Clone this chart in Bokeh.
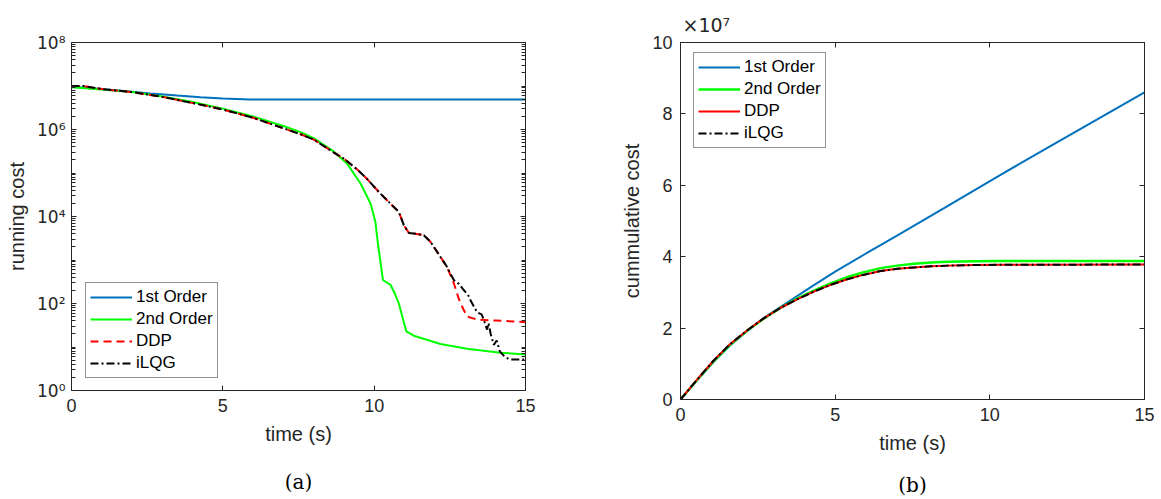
from bokeh.plotting import figure
from bokeh.models import (Range1d, FixedTicker, LogAxis, LinearAxis, Title,
                          CustomJSTickFormatter)
from bokeh.layouts import row
from bokeh.embed import file_html
from bokeh.resources import INLINE

# ---------------- data: (a) running cost (log10 of value) ----------------
t_first = [0, 1.0, 2.0, 2.6, 3.5, 4.26, 5.0, 5.9, 7.0, 15.0]
run_first_log = [6.98, 6.93, 6.87, 6.83, 6.78, 6.74, 6.71, 6.69, 6.69, 6.69]

t_second = [0, 1.0, 2.0, 3.0, 4.0, 5.0, 6.0, 7.0, 7.57, 8.0, 8.67, 9.1, 9.55, 9.88,
            10.04, 10.12, 10.2, 10.29, 10.54, 10.7, 10.81, 11.06, 11.31, 12.19,
            13.07, 14.17, 15.0]
run_second_log = [6.97, 6.92, 6.86, 6.76, 6.63, 6.48, 6.30, 6.08, 5.94, 5.80, 5.49,
                  5.22, 4.76, 4.30, 3.88, 3.40, 3.00, 2.54, 2.43, 2.20, 2.01, 1.36,
                  1.26, 1.07, 0.96, 0.87, 0.83]

t_ddp = [0, 0.4, 1.0, 2.0, 3.0, 4.0, 5.0, 6.0, 7.0, 7.57, 8.0, 8.67, 9.0, 9.44, 9.77,
         10.2, 10.65, 10.81, 10.9, 10.98, 11.15, 11.4, 11.64, 11.86, 12.19, 12.4,
         12.63, 12.8, 12.96, 13.07, 13.4, 14.0, 15.0]
run_ddp_log = [7.00, 7.00, 6.93, 6.86, 6.75, 6.61, 6.46, 6.27, 6.03, 5.89, 5.77, 5.47,
               5.33, 5.08, 4.86, 4.53, 4.22, 4.11, 3.95, 3.80, 3.62, 3.60, 3.57, 3.42,
               3.07, 2.85, 2.47, 2.10, 1.85, 1.70, 1.63, 1.61, 1.57]

t_ilqg = [0, 0.4, 1.0, 2.0, 3.0, 4.0, 5.0, 6.0, 7.0, 7.57, 8.0, 8.67, 9.0, 9.44, 9.77,
          10.2, 10.65, 10.81, 10.9, 10.98, 11.15, 11.4, 11.64, 11.86, 12.19, 12.4,
          12.63, 12.8, 12.96, 13.1, 13.2, 13.4, 13.55, 13.62, 13.73, 13.78, 13.85,
          13.95, 14.05, 14.15, 14.28, 14.45, 14.6, 15.0]
run_ilqg_log = [7.00, 7.00, 6.93, 6.86, 6.75, 6.61, 6.46, 6.27, 6.03, 5.89, 5.77, 5.47,
                5.33, 5.08, 4.86, 4.53, 4.22, 4.11, 3.95, 3.80, 3.62, 3.60, 3.57, 3.42,
                3.07, 2.85, 2.54, 2.45, 2.31, 2.20, 2.05, 1.80, 1.75, 1.63, 1.40, 1.55,
                1.30, 1.05, 1.15, 0.90, 0.80, 0.72, 0.71, 0.71]

# ---------------- data: (b) cumulative cost (units of 1e7) ----------------
t_cum = [0, 0.5, 1.08, 1.6, 2.16, 2.7, 3.24, 3.8, 4.31, 4.85, 5.39, 5.9, 6.47, 7.0,
         7.55, 8.1, 8.63, 9.5, 10.4, 15.0]
cum_second = [0, 0.51, 1.08, 1.53, 1.93, 2.27, 2.57, 2.84, 3.05, 3.25, 3.43, 3.56,
              3.68, 3.75, 3.80, 3.84, 3.86, 3.875, 3.88, 3.88]
cum_ddp = [0, 0.52, 1.10, 1.55, 1.94, 2.28, 2.57, 2.82, 3.02, 3.21, 3.37, 3.49, 3.60,
           3.66, 3.70, 3.73, 3.75, 3.765, 3.775, 3.78]
cum_ilqg = [0, 0.52, 1.10, 1.55, 1.94, 2.28, 2.57, 2.82, 3.02, 3.21, 3.37, 3.49, 3.60,
            3.66, 3.70, 3.73, 3.75, 3.765, 3.775, 3.78]
t_cum_first = [0, 0.5, 1.08, 1.6, 2.16, 2.7, 3.4, 4.2, 5.0, 6.0, 7.0, 8.52, 10.36, 12.0, 15.0]
cum_first = [0, 0.50, 1.06, 1.51, 1.92, 2.29, 2.69, 3.14, 3.58, 4.09, 4.59, 5.36, 6.30,
             7.12, 8.60]

series_names = ["1st Order", "2nd Order", "DDP", "iLQG"]
x_ticks = [0, 5, 10, 15]
log_ticks = [1, 1e2, 1e4, 1e6, 1e8]
log_tick_labels = ["10\u2070", "10\u00b2", "10\u2074", "10\u2076", "10\u2078"]
lin_ticks = [0, 2, 4, 6, 8, 10]
captions = ["(a)", "(b)"]
multiplier_text = "\u00d710\u2077"

BLUE = "#0072BD"
GREEN = "#00FF00"
RED = "#FF0000"
BLACK = "#000000"
AX = "#262626"
FONT = "Liberation Sans"

log_minor = [k * 10 ** n for n in range(0, 8) for k in range(2, 10)] + [10 ** n for n in (1, 3, 5, 7)]


def style_axis(ax, labels=True):
    ax.axis_line_color = AX
    ax.major_tick_line_color = AX
    ax.minor_tick_line_color = AX
    ax.major_tick_in = 5
    ax.major_tick_out = 0
    ax.minor_tick_in = 3
    ax.minor_tick_out = 0
    ax.major_label_text_font = FONT
    ax.major_label_text_font_size = "18px"
    ax.major_label_text_color = AX
    ax.axis_label_text_font = FONT
    ax.axis_label_text_font_size = "20px"
    ax.axis_label_text_font_style = "normal"
    ax.axis_label_text_color = AX
    if not labels:
        ax.formatter = CustomJSTickFormatter(code="return '';")
        ax.major_label_text_font_size = "0px"
        ax.major_label_standoff = 0


def style_legend(p, loc):
    lg = p.legend[0]
    lg.location = loc
    lg.label_text_font = FONT
    lg.label_text_font_size = "17px"
    lg.label_text_color = "#000000"
    lg.glyph_width = 42
    lg.glyph_height = 20
    lg.label_height = 20
    lg.spacing = 2
    lg.padding = 4
    lg.margin = 0
    lg.label_standoff = 4
    lg.border_line_color = AX
    lg.border_line_width = 1
    lg.background_fill_alpha = 1.0


def caption(p, text, standoff):
    p.add_layout(Title(text=text, align="center", text_font="DejaVu Serif",
                       text_font_size="20px", text_font_style="normal",
                       text_color="#000000", standoff=standoff), "below")


# ---------------- figure (a) ----------------
p1 = figure(y_axis_type="log", x_range=Range1d(0, 15), y_range=Range1d(1, 1e8),
            frame_width=454, frame_height=348, min_border_left=71, min_border_right=80,
            min_border_top=42, min_border_bottom=109, output_backend="svg",
            toolbar_location=None, background_fill_color="white")
p1.grid.visible = False
p1.outline_line_color = AX

p1.line(t_first, [10 ** v for v in run_first_log], color=BLUE, line_width=2,
        legend_label=series_names[0])
p1.line(t_second, [10 ** v for v in run_second_log], color=GREEN, line_width=2,
        legend_label=series_names[1])
p1.line(t_ddp, [10 ** v for v in run_ddp_log], color=RED, line_width=2,
        line_dash="8 5", legend_label=series_names[2])
p1.line(t_ilqg, [10 ** v for v in run_ilqg_log], color=BLACK, line_width=2,
        line_dash="8 3 2 3", legend_label=series_names[3])

log_fmt = CustomJSTickFormatter(args=dict(tick_vals=log_ticks, tick_texts=log_tick_labels), code="""
const i = tick_vals.findIndex(t => Math.abs(Math.log10(t) - Math.log10(tick)) < 1e-6);
return i >= 0 ? tick_texts[i] : '';
""")

p1.xaxis.ticker = FixedTicker(ticks=x_ticks)
p1.xaxis.axis_label = "time (s)"
p1.yaxis.ticker = FixedTicker(ticks=log_ticks, minor_ticks=log_minor)
p1.yaxis.formatter = log_fmt
p1.yaxis.axis_label = "running cost"
for ax in p1.xaxis + p1.yaxis:
    style_axis(ax)
p1.xaxis.major_label_standoff = 8
p1.xaxis.axis_label_standoff = 8
p1.yaxis.major_label_standoff = 6
p1.yaxis.axis_label_standoff = 6
p1.yaxis.major_label_text_font = "DejaVu Sans"
p1.yaxis.major_label_text_font_size = "17px"
p1.yaxis.minor_tick_in = 4

top1 = LinearAxis(ticker=FixedTicker(ticks=x_ticks))
style_axis(top1, labels=False)
p1.add_layout(top1, "above")
right1 = LogAxis(ticker=FixedTicker(ticks=log_ticks, minor_ticks=log_minor))
style_axis(right1, labels=False)
right1.minor_tick_in = 4
p1.add_layout(right1, "right")

style_legend(p1, (14, 12))
caption(p1, captions[0], 41)

# ---------------- figure (b) ----------------
p2 = figure(x_range=Range1d(0, 15), y_range=Range1d(0, 10),
            frame_width=464, frame_height=357, min_border_left=75, min_border_right=17,
            min_border_top=34, min_border_bottom=108, output_backend="svg",
            toolbar_location=None, background_fill_color="white")
p2.grid.visible = False
p2.outline_line_color = AX

p2.line(t_cum_first, cum_first, color=BLUE, line_width=2, legend_label=series_names[0])
p2.line(t_cum, cum_second, color=GREEN, line_width=2.5, legend_label=series_names[1])
p2.line(t_cum, cum_ddp, color=RED, line_width=2, legend_label=series_names[2])
p2.line(t_cum, cum_ilqg, color=BLACK, line_width=2, line_dash="8 3 2 3",
        legend_label=series_names[3])

p2.xaxis.ticker = FixedTicker(ticks=x_ticks)
p2.xaxis.axis_label = "time (s)"
p2.yaxis.ticker = FixedTicker(ticks=lin_ticks)
p2.yaxis.axis_label = "cummulative cost"
for ax in p2.xaxis + p2.yaxis:
    style_axis(ax)
p2.xaxis.major_label_standoff = 8
p2.xaxis.axis_label_standoff = 8
p2.yaxis.major_label_standoff = 8
p2.yaxis.axis_label_standoff = 6

top2 = LinearAxis(ticker=FixedTicker(ticks=x_ticks))
style_axis(top2, labels=False)
p2.add_layout(top2, "above")
right2 = LinearAxis(ticker=FixedTicker(ticks=lin_ticks))
style_axis(right2, labels=False)
p2.add_layout(right2, "right")

style_legend(p2, (13, 251))

p2.title = Title(text=multiplier_text, align="left", offset=2, standoff=13,
                 text_font="DejaVu Sans", text_font_size="19px", text_font_style="normal",
                 text_color=AX)
caption(p2, captions[1], 28)

layout = row(p1, p2)
open("out.html", "w", encoding="utf-8").write(file_html(layout, INLINE))
